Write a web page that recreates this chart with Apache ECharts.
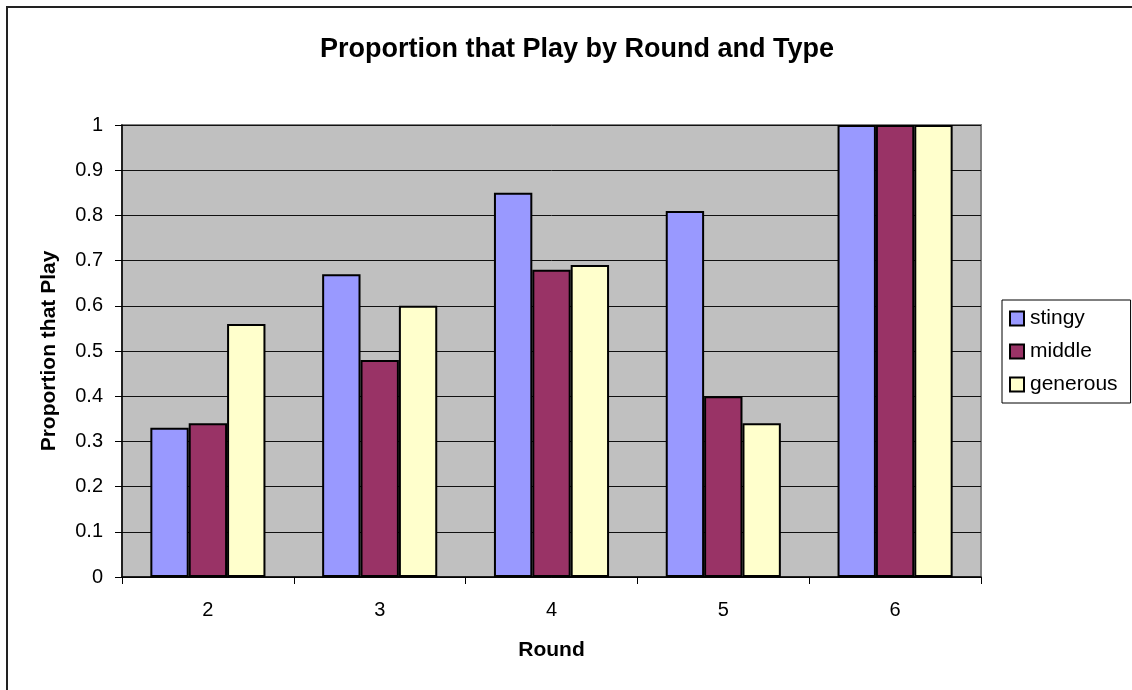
<!DOCTYPE html>
<html>
<head>
<meta charset="utf-8">
<script src="https://cdn.jsdelivr.net/npm/echarts@6/dist/echarts.min.js"></script>
<style>
  html, body { margin: 0; padding: 0; background: #fff; }
  #chart { width: 1132px; height: 690px; }
</style>
</head>
<body>
<div id="chart"></div>
<script>
// Rounds on the category axis
const rounds = ['2', '3', '4', '5', '6'];
// Proportion of each player type that chose to play, per round
const stingy   = [0.33, 0.67, 0.85, 0.81, 1.00];
const middle   = [0.34, 0.48, 0.68, 0.40, 1.00];
const generous = [0.56, 0.60, 0.69, 0.34, 1.00];

const FONT = 'Liberation Sans, Arial, sans-serif';

function barSeries(name, data, color) {
  return {
    name: name,
    type: 'bar',
    data: data,
    barGap: '0%',
    barCategoryGap: '33%',
    itemStyle: { color: color, borderColor: '#000', borderWidth: 2 }
  };
}

const chart = echarts.init(document.getElementById('chart'), null, { renderer: 'canvas' });
chart.setOption({
  backgroundColor: '#fff',
  animation: false,
  title: {
    text: 'Proportion that Play by Round and Type',
    left: 572, top: 31, textAlign: 'center',
    textStyle: { fontFamily: FONT, fontSize: 27, fontWeight: 'bold', color: '#000' }
  },
  legend: {
    orient: 'vertical',
    left: 1002, top: 300,
    padding: [8, 13, 8, 7],
    itemGap: 12,
    itemWidth: 14, itemHeight: 14,
    icon: 'rect',
    backgroundColor: '#fff',
    borderColor: '#000',
    borderWidth: 1,
    borderRadius: 0,
    itemStyle: { borderColor: '#000', borderWidth: 2 },
    textStyle: { fontFamily: FONT, fontSize: 21, color: '#000', padding: [0, 0, 0, 1] }
  },
  grid: {
    left: 122, top: 125, right: 151, bottom: 113,
    show: true,
    backgroundColor: '#C0C0C0',
    borderColor: '#808080',
    borderWidth: 2
  },
  xAxis: {
    type: 'category',
    data: rounds,
    name: 'Round',
    nameLocation: 'middle',
    nameGap: 63,
    nameTextStyle: { fontFamily: FONT, fontSize: 21, fontWeight: 'bold', color: '#000' },
    axisLine: { lineStyle: { color: '#000', width: 1.5 } },
    axisTick: { show: true, length: 7, lineStyle: { color: '#000', width: 1 } },
    axisLabel: { fontFamily: FONT, fontSize: 20, color: '#000', margin: 23 }
  },
  yAxis: {
    type: 'value',
    min: 0, max: 1, interval: 0.1,
    name: 'Proportion that Play',
    nameLocation: 'middle',
    nameGap: 62,
    nameTextStyle: { fontFamily: FONT, fontSize: 21, fontWeight: 'bold', color: '#000' },
    axisLine: { show: true, lineStyle: { color: '#000', width: 1.5 } },
    axisTick: { show: true, length: 7, lineStyle: { color: '#000', width: 1 } },
    axisLabel: { fontFamily: FONT, fontSize: 20, color: '#000', margin: 19,
                 formatter: v => String(Math.round(v * 10) / 10) },
    splitLine: { show: true, lineStyle: { color: '#111', width: 1 } }
  },
  series: [
    barSeries('stingy', stingy, '#9999FF'),
    barSeries('middle', middle, '#993366'),
    barSeries('generous', generous, '#FFFFCC')
  ],
  graphic: [{
    type: 'rect',
    silent: true,
    shape: { x: 7, y: 7, width: 1200, height: 800 },
    style: { fill: null, stroke: '#222', lineWidth: 2 }
  }]
});
</script>
</body>
</html>
